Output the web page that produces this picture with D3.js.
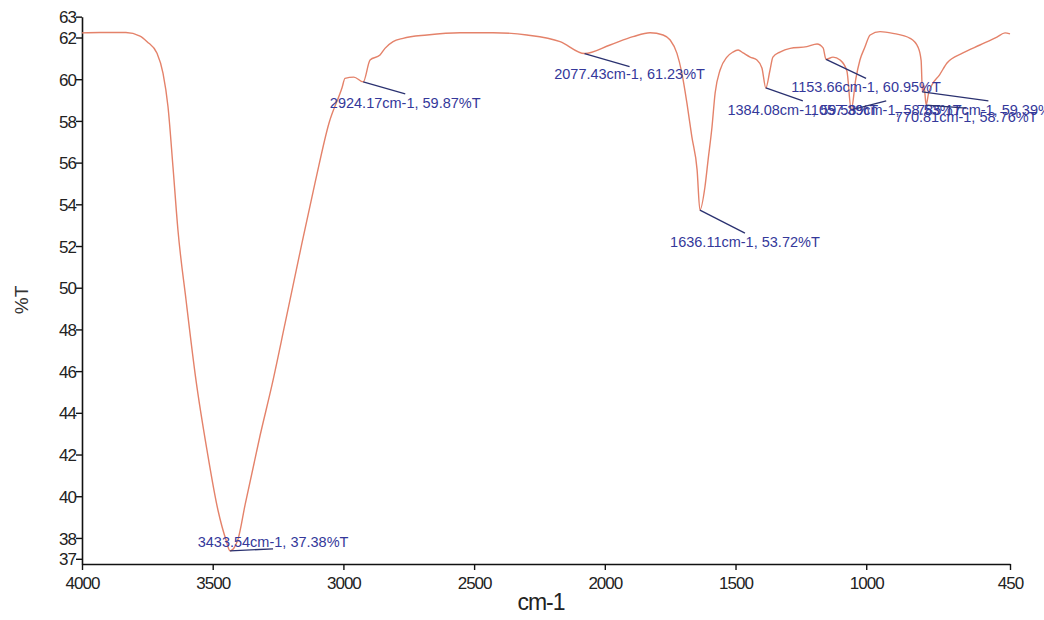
<!DOCTYPE html>
<html>
<head>
<meta charset="utf-8">
<script src="https://cdn.jsdelivr.net/npm/d3@7"></script>
<style>
  html, body { margin: 0; padding: 0; background: #fff; }
  svg { display: block; }
</style>
</head>
<body>
<svg id="chart" width="1044" height="620"></svg>
<script>
// ---- data ----
const wavenumbers = [4000, 3931, 3832, 3778, 3751, 3713, 3690, 3671, 3652, 3633, 3602, 3564, 3522, 3480, 3449, 3433.54,
  3403, 3376, 3319, 3273, 3223, 3166, 3109, 3055, 3005, 2994, 2960, 2924.17, 2898, 2860, 2841, 2810, 2772, 2680,
  2554, 2428, 2298, 2171, 2077.43, 1980, 1892, 1827, 1777, 1750, 1724, 1705, 1686, 1667, 1647, 1636.11,
  1617, 1605, 1590, 1578, 1559, 1533, 1510, 1490, 1471, 1444, 1418, 1399, 1384.08, 1368, 1357, 1330, 1291,
  1227, 1188, 1165, 1153.66, 1127, 1100, 1074, 1057.39, 1040, 1024, 1005, 985, 947, 898, 832, 802, 790,
  785, 779, 770.81, 762, 750, 720, 691, 630, 565, 500, 469, 450];
const transmittance = [62.22, 62.24, 62.24, 62.07, 61.8, 61.24, 60.28, 58.68, 55.8, 52.77, 49.41, 45.57, 42.22, 39.34, 37.9, 37.38,
  37.95, 39.6, 42.9, 45.35, 48.3, 51.7, 55.0, 57.9, 59.6, 60.04, 60.1, 59.87, 60.92, 61.16, 61.48, 61.8, 61.96, 62.12,
  62.23, 62.23, 62.12, 61.8, 61.23, 61.64, 62.04, 62.23, 62.12, 61.88, 61.24, 60.28, 58.86, 57.23, 55.65, 53.72,
  54.83, 56.12, 57.71, 59.34, 60.44, 61.06, 61.3, 61.4, 61.26, 61.06, 60.92, 60.54, 59.58, 60.44, 61.06, 61.3, 61.48,
  61.56, 61.69, 61.5, 60.95, 61.06, 60.92, 60.4, 58.53, 60.0, 60.92, 61.54, 62.12, 62.28, 62.2, 61.96, 61.54, 60.9,
  59.39, 59.7, 58.76, 59.3, 59.7, 60.2, 60.78, 61.26, 61.64, 62.02, 62.22, 62.17];

const peakWn = [3433.54, 2924.17, 2077.43, 1636.11, 1384.08, 1153.66, 1057.39, 785.17, 770.81];
const peakT  = [37.38, 59.87, 61.23, 53.72, 59.58, 60.95, 58.53, 59.39, 58.76];

const xTicks = [4000, 3500, 3000, 2500, 2000, 1500, 1000, 450];
const yTicks = [37, 38, 40, 42, 44, 46, 48, 50, 52, 54, 56, 58, 60, 62, 63];

const xTitle = "cm-1";
const yTitle = "%T";

// ---- layout ----
const svg = d3.select("#chart");
const x = d3.scaleLinear().domain([4000, 450]).range([82, 1010]);
const y = d3.scaleLinear().domain([36.75, 63]).range([564, 16.65]);

// leader end offsets (pixels, relative to the peak marker) and text baseline offsets
const labelLayout = [
  {dx: 43, dy: -2, tb: -2},
  {dx: 42, dy: 12, tb: 14},
  {dx: 45, dy: 13, tb: 12},
  {dx: 45, dy: 23, tb: 14},
  {dx: 37, dy: 13, tb: 14},
  {dx: 40, dy: 19, tb: 14},
  {dx: 35, dy: -9, tb: 14},
  {dx: 66, dy: 9, tb: 14},
  {dx: 40, dy: 3, tb: 14}
];

const tickFont = "'Liberation Sans', Arial, sans-serif";

// ---- axes ----
const xAxis = d3.axisBottom(x).tickValues(xTicks).tickSize(6).tickSizeOuter(0).tickFormat(d3.format("d"));
const gx = svg.append("g").attr("transform", "translate(0,564)").call(xAxis);
gx.select(".domain").attr("stroke", "#111").attr("stroke-width", 1.6);
gx.selectAll(".tick line").attr("stroke", "#111").attr("stroke-width", 1.4);
gx.selectAll(".tick text")
  .attr("font-family", tickFont).attr("font-size", 17).attr("letter-spacing", "-1px")
  .attr("fill", "#222").attr("dy", "0.95em");

const yAxis = d3.axisLeft(y).tickValues(yTicks).tickSize(6).tickSizeOuter(0).tickFormat(d3.format("d"));
const gy = svg.append("g").attr("transform", "translate(82,0)").call(yAxis);
gy.select(".domain").attr("stroke", "#111").attr("stroke-width", 1.6);
gy.selectAll(".tick line").attr("stroke", "#111").attr("stroke-width", 1.4);
gy.selectAll(".tick text")
  .attr("font-family", tickFont).attr("font-size", 17).attr("letter-spacing", "-1px")
  .attr("fill", "#222").attr("x", -6).attr("dy", "0.36em");

// axis titles
svg.append("text").attr("x", 541).attr("y", 610).attr("text-anchor", "middle")
  .attr("font-family", tickFont).attr("font-size", 23).attr("letter-spacing", "-1px")
  .attr("fill", "#222").text(xTitle);
svg.append("text").attr("transform", "translate(28,300) rotate(-90)").attr("text-anchor", "middle")
  .attr("font-family", tickFont).attr("font-size", 19)
  .attr("fill", "#333").text(yTitle);

// ---- spectrum ----
const pts = wavenumbers.map((w, i) => [w, transmittance[i]]);
const line = d3.line().x(d => x(d[0])).y(d => y(d[1])).curve(d3.curveMonotoneX);
svg.append("path").datum(pts)
  .attr("d", line).attr("fill", "none")
  .attr("stroke", "#e4826a").attr("stroke-width", 1.4);

// ---- peak labels ----
const fmt = d3.format(".2f");
const gl = svg.append("g");
peakWn.forEach((w, i) => {
  const px = x(w), py = y(peakT[i]);
  const L = labelLayout[i];
  const ex = px + L.dx, ey = py + L.dy;
  gl.append("line").attr("x1", px).attr("y1", py).attr("x2", ex).attr("y2", ey)
    .attr("stroke", "#2a3170").attr("stroke-width", 1.3);
  gl.append("text").attr("x", ex).attr("y", ey + L.tb).attr("text-anchor", "middle")
    .attr("font-family", tickFont).attr("font-size", 14.5)
    .attr("fill", "#34389a")
    .text(fmt(w) + "cm-1, " + fmt(peakT[i]) + "%T");
});
</script>
</body>
</html>
